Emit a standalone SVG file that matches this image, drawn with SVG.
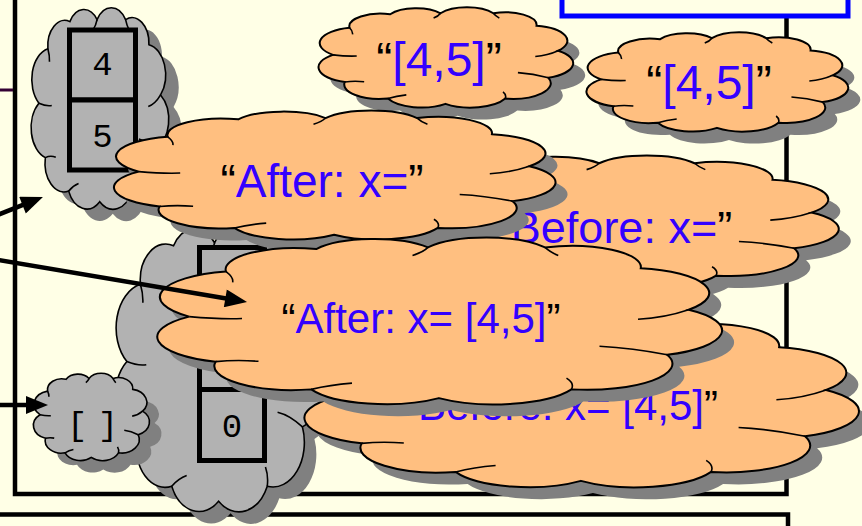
<svg xmlns="http://www.w3.org/2000/svg" width="862" height="526" viewBox="0 0 862 526">
<style>
.bg{fill:#FFFFE6}
.frame{fill:none;stroke:#000;stroke-width:4.5}
.blue{fill:#FFFFE6;stroke:#0000FF;stroke-width:5}
.shadow{fill:#808080;stroke:none}
.gray{fill:#B2B2B2;stroke:#000;stroke-width:1.6}
.orange{fill:#FFBF80;stroke:#000;stroke-width:2}
.crease{fill:none;stroke:#000;stroke-width:1.6}
.box{fill:#B2B2B2;stroke:#000;stroke-width:5}
.mono{font-family:"Liberation Mono","DejaVu Sans Mono",monospace;font-size:34px;fill:#000;text-anchor:middle}
.lbl{font-family:"Liberation Sans",Arial,sans-serif;fill:#3300FF;text-anchor:middle}
.q{fill:#000}
.conn{stroke:#000;stroke-width:4.5;fill:none;marker-end:url(#ah)}
</style>
<defs>
<path id="cloud" vector-effect="non-scaling-stroke" d="M4.4,47.4 A15.5,15.5 0 0 1 11.1,20.6 A12.6,12.6 0 0 1 27.5,7.2 A12.2,12.2 0 0 1 47.8,6.2 A12.6,12.6 0 0 1 69.1,6.2 A12.6,12.6 0 0 1 86.5,18.6 A15,15 0 0 1 95.2,43.3 A15.5,15.5 0 0 1 91.3,70.1 A15.5,15.5 0 0 1 73.9,90.7 A15.5,15.5 0 0 1 49.8,95.9 A14.8,14.8 0 0 1 26.6,90.7 A14.3,14.3 0 0 1 9.2,74.2 A15.5,15.5 0 0 1 4.4,47.4 Z"/>
<path id="crease" vector-effect="non-scaling-stroke" d="M4.4,47.4 Q10,49 14,48.5 M11.1,20.6 Q12.5,24 12.3,27 M47.8,6.2 Q47,9 45,11 M69.1,6.2 Q70,9 71.5,11 M95.2,43.3 Q91,48 86,49 M91.3,70.1 Q85,66 79,65 M73.9,90.7 Q74.5,87 73,84 M26.6,90.7 Q30,88 34,87 M9.2,74.2 Q13,73 17,74"/>
<marker id="ah" markerUnits="userSpaceOnUse" markerWidth="24" markerHeight="18" viewBox="0 0 22 18" refX="10" refY="9" orient="auto"><path d="M0,0 L22,9 L0,18 Z" fill="#000"/></marker>
</defs>
<rect class="bg" x="0" y="0" width="862" height="526"/>
<g id="frames">
<rect class="frame" x="15" y="-10" width="771.5" height="504"/>
<rect class="frame" x="-10" y="514.5" width="798" height="30"/>
<rect class="blue" x="562" y="-10" width="286" height="26"/>
<line x1="0" y1="90" x2="13" y2="90" stroke="#330033" stroke-width="3"/>
</g>
<g id="list45">
<use href="#cloud" class="shadow" transform="translate(46,19) scale(1.34,2.03)"/>
<use href="#cloud" class="gray" transform="translate(33,7) scale(1.34,2.03)"/>
<use href="#crease" class="crease" transform="translate(33,7) scale(1.34,2.03)"/>
<rect class="box" x="69.5" y="30" width="66" height="70"/>
<rect class="box" x="69.5" y="100" width="66" height="70"/>
<text class="mono" x="102.5" y="75">4</text>
<text class="mono" x="102.5" y="147">5</text>
</g>
<g id="column">
<use href="#cloud" class="shadow" transform="translate(130,237) scale(2.02,2.88)"/>
<use href="#cloud" class="gray" transform="translate(118,225) scale(2.02,2.88)"/>
<use href="#crease" class="crease" transform="translate(118,225) scale(2.02,2.88)"/>
<rect class="box" x="199.5" y="247.5" width="65" height="71"/>
<rect class="box" x="199.5" y="318.5" width="65" height="71"/>
<rect class="box" x="199.5" y="389.5" width="65" height="71"/>
<text class="mono" x="232" y="437">0</text>
</g>
<g id="empty">
<use href="#cloud" class="shadow" transform="translate(47,385) scale(1.13,0.88)"/>
<use href="#cloud" class="gray" transform="translate(35,373) scale(1.13,0.88)"/>
<use href="#crease" class="crease" transform="translate(35,373) scale(1.13,0.88)"/>
<text class="mono" x="90" y="435" font-size="46" letter-spacing="-5">[ ]</text>
</g>
<g id="str-a">
<use href="#cloud" class="shadow" transform="translate(334,19) scale(2.48,1.01)"/>
<use href="#cloud" class="orange" transform="translate(322,7) scale(2.48,1.01)"/>
<use href="#crease" class="crease" transform="translate(322,7) scale(2.48,1.01)"/>
<text class="lbl" x="439" y="76" font-size="48"><tspan class="q">“</tspan>[4,5]<tspan class="q">”</tspan></text>
</g>
<g id="str-b">
<use href="#cloud" class="shadow" transform="translate(602,44) scale(2.55,1.0)"/>
<use href="#cloud" class="orange" transform="translate(590,32) scale(2.55,1.0)"/>
<use href="#crease" class="crease" transform="translate(590,32) scale(2.55,1.0)"/>
<text class="lbl" x="709" y="99" font-size="48"><tspan class="q">“</tspan>[4,5]<tspan class="q">”</tspan></text>
</g>
<g id="str-c">
<use href="#cloud" class="shadow" transform="translate(397,167) scale(4.48,1.33)"/>
<use href="#cloud" class="orange" transform="translate(385,155) scale(4.48,1.33)"/>
<use href="#crease" class="crease" transform="translate(385,155) scale(4.48,1.33)"/>
<text class="lbl" x="614" y="243" font-size="45"><tspan class="q">“</tspan>Before: x=<tspan class="q">”</tspan></text>
</g>
<g id="str-d">
<use href="#cloud" class="shadow" transform="translate(324,327) scale(5.4,1.73)"/>
<use href="#cloud" class="orange" transform="translate(312,315) scale(5.4,1.73)"/>
<use href="#crease" class="crease" transform="translate(312,315) scale(5.4,1.73)"/>
<text class="lbl" x="561" y="420" font-size="42"><tspan class="q">“</tspan>Before: x= [4,5]<tspan class="q">”</tspan></text>
</g>
<g id="str-e">
<use href="#cloud" class="shadow" transform="translate(132,122) scale(4.3,1.3)"/>
<use href="#cloud" class="orange" transform="translate(120,110) scale(4.3,1.3)"/>
<use href="#crease" class="crease" transform="translate(120,110) scale(4.3,1.3)"/>
<text class="lbl" x="322" y="197" font-size="46"><tspan class="q">“</tspan>After: x=<tspan class="q">”</tspan></text>
</g>
<g id="str-f">
<use href="#cloud" class="shadow" transform="translate(177,249) scale(5.5,1.68)"/>
<use href="#cloud" class="orange" transform="translate(165,237) scale(5.5,1.68)"/>
<use href="#crease" class="crease" transform="translate(165,237) scale(5.5,1.68)"/>
<text class="lbl" x="421" y="333" font-size="42"><tspan class="q">“</tspan>After: x= [4,5]<tspan class="q">”</tspan></text>
</g>
<g id="connectors">
<line class="conn" x1="-5" y1="216" x2="31.8" y2="201.4"/>
<line class="conn" x1="-2" y1="260" x2="235.2" y2="300"/>
<line class="conn" x1="-2" y1="405" x2="36" y2="405"/>
</g>
</svg>
